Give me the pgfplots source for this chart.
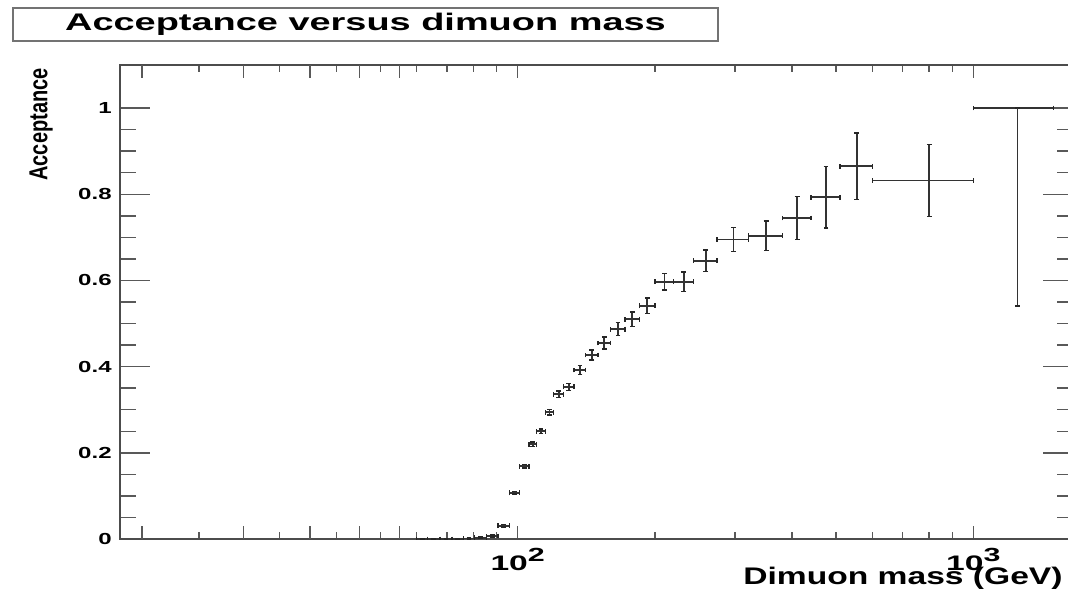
\documentclass[border=0pt]{standalone}
\usepackage{pgfplots}
\pgfplotsset{compat=1.18}
\usepackage{pgfplotstable}
\usepackage{fontspec}
\setmainfont{Liberation Sans}
\usepackage{graphicx}

% the reference is stretched sideways, so text is too
\newcommand{\sx}[2][1.5]{\scalebox{#1}[1]{#2}}
\newcommand{\tenpow}[1]{\sx[1.6]{\fontsize{10.5}{10.5}\selectfont\bfseries 10\raisebox{4.5pt}{\fontsize{9.5}{9.5}\selectfont #1}}}

% x = bin centre (GeV), e = half bin width, y = acceptance
\pgfplotstableread{
x       e      y      ym     yp
61.75   1.75   0.000  0.000  0.000
65.5    2      0.000  0.000  0.000
69.625  2.125  0.000  0.000  0.000
73.875  2.125  0.000  0.000  0.000
78.25   2.25   0.001  0.001  0.001
83      2.5    0.003  0.002  0.002
88      2.5    0.007  0.002  0.002
93.25   2.75   0.031  0.003  0.003
98.5    2.5    0.107  0.003  0.003
103.5   2.5    0.169  0.004  0.004
108     2      0.220  0.005  0.005
112.5   2.5    0.250  0.005  0.005
117.5   2.5    0.294  0.006  0.006
123     3      0.336  0.007  0.007
129.5   3.5    0.353  0.008  0.008
137     4      0.392  0.010  0.010
145.5   4.5    0.427  0.012  0.012
155     5      0.455  0.014  0.014
166     6      0.487  0.015  0.015
178.5   6.5    0.510  0.017  0.017
192.5   7.5    0.541  0.018  0.018
210     10     0.597  0.019  0.019
231.5   11.5   0.597  0.023  0.023
258.5   15.5   0.646  0.025  0.025
297.5   23.5   0.695  0.028  0.028
351     30     0.704  0.034  0.034
410.5   29.5   0.745  0.050  0.050
475     35     0.793  0.071  0.071
555     45     0.865  0.077  0.077
800     200    0.832  0.084  0.084
1250    250    1.000  0.459  0.000
}\acc

\begin{document}
\begin{tikzpicture}
\begin{axis}[
    at={(60pt,24.5pt)}, anchor=south west,
    scale only axis, width=476.5pt, height=237pt,
    xmode=log, xmin=13.41, xmax=1655,
    ymin=0, ymax=1.1,
    axis line style={black!70, line width=0.8pt},
    tick pos=both, tick align=inside,
    every tick/.style={black!65, line width=0.7pt},
    xtick style={/pgfplots/major tick length=6.5pt, /pgfplots/minor tick length=3.5pt},
    ytick style={/pgfplots/major tick length=15pt, /pgfplots/minor tick length=8pt},
    xtick={100,1000},
    xticklabels={\tenpow{2},\tenpow{3}},
    minor xtick={20,30,40,50,60,70,80,90,200,300,400,500,600,700,800,900},
    extra x ticks={15,25,35,45,55},
    extra x tick labels={},
    extra x tick style={/pgfplots/major tick length=1.5pt},
    xticklabel style={anchor=base, inner sep=0pt, yshift=-15.5pt},
    ytick={0,0.2,0.4,0.6,0.8,1},
    yticklabels={\sx{0},\sx{0.2},\sx{0.4},\sx{0.6},\sx{0.8},\sx{1}},
    minor y tick num=3,
    yticklabel style={font=\bfseries\fontsize{8}{8}\selectfont, anchor=east, inner sep=0pt, xshift=-4pt},
]
\addplot[draw=none, mark=none,
    error bars/.cd,
    x dir=both, x explicit,
    y dir=both, y explicit,
    error bar style={draw=black!80, line width=0.9pt},
    error mark options={rotate=90, draw=black!85, mark size=1.2pt, line width=0.7pt}]
  table[x=x, y=y, x error=e, y error minus=ym, y error plus=yp] {\acc};
\end{axis}

% title box
\node[draw=black!55, fill=white, line width=0.6pt, minimum width=352.5pt,
      minimum height=16.5pt, inner sep=0pt] at (182.75pt,281.75pt)
  {\fontsize{12}{12}\selectfont\bfseries\sx[1.58]{Acceptance versus dimuon mass}};

% axis titles
\node[rotate=90, anchor=base east, inner sep=0pt] at (23.7pt,260pt)
  {\scalebox{1}[1.3]{\fontsize{10}{10}\selectfont\bfseries Acceptance}};
\node[anchor=base east, inner sep=0pt] at (531.5pt,2pt)
  {\fontsize{12}{12}\selectfont\bfseries\sx[1.4]{Dimuon mass (GeV)}};

\pgfresetboundingbox
\path[use as bounding box] (0pt,0pt) rectangle (534pt,294pt);
\end{tikzpicture}
\end{document}
